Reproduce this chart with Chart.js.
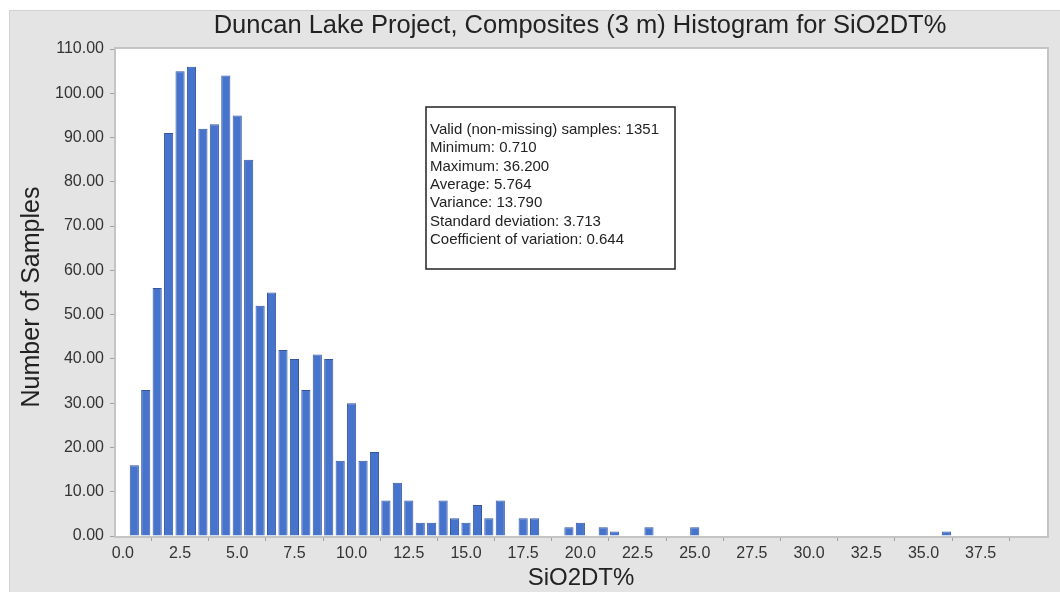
<!DOCTYPE html>
<html>
<head>
<meta charset="utf-8">
<script src="https://cdn.jsdelivr.net/npm/chart.js@4.4.1/dist/chart.umd.min.js"></script>
<style>
  html, body { margin: 0; padding: 0; background: #ffffff; }
  #wrap { position: relative; width: 1060px; height: 592px; }
  canvas { display: block; }
</style>
</head>
<body>
<div id="wrap"><canvas id="c" width="1060" height="592"></canvas></div>
<script>
// ---- Data ----
const chartTitle = 'Duncan Lake Project, Composites (3 m) Histogram for SiO2DT%';
const xAxisTitle = 'SiO2DT%';
const yAxisTitle = 'Number of Samples';
const binCenters = [0.5, 1.0, 1.5, 2.0, 2.5, 3.0, 3.5, 4.0, 4.5, 5.0,
                    5.5, 6.0, 6.5, 7.0, 7.5, 8.0, 8.5, 9.0, 9.5, 10.0,
                    10.5, 11.0, 11.5, 12.0, 12.5, 13.0, 13.5, 14.0, 14.5, 15.0,
                    15.5, 16.0, 16.5, 17.5, 18.0, 19.5, 20.0, 21.0, 21.5, 23.0,
                    25.0, 36.0];
const sampleCounts = [16, 33, 56, 91, 105, 106, 92, 93, 104, 95,
                      85, 52, 55, 42, 40, 33, 41, 40, 17, 30,
                      17, 19, 8, 12, 8, 3, 3, 8, 4, 3,
                      7, 4, 8, 4, 4, 2, 3, 2, 1, 2,
                      2, 1];
const xTickValues = [0, 2.5, 5, 7.5, 10, 12.5, 15, 17.5, 20, 22.5, 25, 27.5, 30, 32.5, 35, 37.5, 40];
const statsLines = [
  'Valid (non-missing) samples: 1351',
  'Minimum: 0.710',
  'Maximum: 36.200',
  'Average: 5.764',
  'Variance: 13.790',
  'Standard deviation: 3.713',
  'Coefficient of variation: 0.644'
];

const FONT = '"Liberation Sans", Arial, "DejaVu Sans", sans-serif';

const decorPlugin = {
  id: 'decor',
  beforeDraw(chart) {
    const ctx = chart.ctx;
    const a = chart.chartArea;
    ctx.save();
    ctx.fillStyle = '#ffffff';
    ctx.fillRect(0, 0, chart.width, chart.height);
    ctx.fillStyle = '#e4e4e4';
    ctx.fillRect(9, 10, chart.width - 9, chart.height - 10);
    ctx.strokeStyle = '#d2d2d2';
    ctx.lineWidth = 1;
    ctx.beginPath();
    ctx.moveTo(9.5, chart.height);
    ctx.lineTo(9.5, 10.5);
    ctx.lineTo(chart.width, 10.5);
    ctx.stroke();
    ctx.fillStyle = '#ffffff';
    ctx.fillRect(a.left, a.top, a.right - a.left, a.bottom - a.top);
    ctx.restore();
  },
  afterDraw(chart) {
    const ctx = chart.ctx;
    const a = chart.chartArea;
    ctx.save();
    // plot frame
    ctx.strokeStyle = '#c4c4c4';
    ctx.lineWidth = 2;
    ctx.strokeRect(a.left - 1, a.top - 1, a.right - a.left + 2, a.bottom - a.top + 2);
    // titles
    ctx.fillStyle = '#222222';
    ctx.textAlign = 'center';
    ctx.textBaseline = 'middle';
    ctx.font = '25.5px ' + FONT;
    ctx.fillText(chartTitle, 580, 26);
    ctx.font = '24px ' + FONT;
    ctx.fillText(xAxisTitle, 581, 578);
    ctx.save();
    ctx.translate(32, 297);
    ctx.rotate(-Math.PI / 2);
    ctx.font = '25px ' + FONT;
    ctx.fillText(yAxisTitle, 0, 0);
    ctx.restore();
    // stats box
    ctx.fillStyle = '#ffffff';
    ctx.fillRect(426, 107, 249, 162);
    ctx.strokeStyle = '#222222';
    ctx.lineWidth = 1.5;
    ctx.strokeRect(426, 107, 249, 162);
    ctx.fillStyle = '#222222';
    ctx.textAlign = 'left';
    ctx.font = '15px ' + FONT;
    statsLines.forEach((s, i) => ctx.fillText(s, 430, 130 + i * 18.3));
    ctx.restore();
  }
};

new Chart(document.getElementById('c'), {
  type: 'bar',
  data: {
    datasets: [{
      data: binCenters.map((x, i) => ({ x: x, y: sampleCounts[i] })),
      backgroundColor: '#4673cc',
      borderColor: '#35569f',
      borderWidth: 1,
      barPercentage: 0.8,
      categoryPercentage: 1.0
    }]
  },
  options: {
    responsive: false,
    animation: false,
    devicePixelRatio: 1,
    layout: { padding: { left: 0, right: 13, top: 49, bottom: 0 } },
    plugins: { legend: { display: false }, title: { display: false }, tooltip: { enabled: false } },
    scales: {
      x: {
        type: 'linear',
        min: -0.3,
        max: 40.4,
        offset: false,
        afterFit(scale) { scale.height = 56; },
        afterBuildTicks(scale) { scale.ticks = xTickValues.map(v => ({ value: v })); },
        border: { display: false },
        grid: { drawOnChartArea: false, drawTicks: true, tickLength: 5, color: '#a0a0a0' },
        ticks: {
          autoSkip: false,
          maxRotation: 0,
          padding: 3,
          color: '#333333',
          font: { family: FONT, size: 16 },
          callback: (v) => (v >= 40 ? '' : Number(v).toFixed(1))
        }
      },
      y: {
        min: 0,
        max: 110,
        afterFit(scale) { scale.width = 116; },
        border: { display: false },
        grid: { drawOnChartArea: false, drawTicks: true, tickLength: 6, color: '#a0a0a0' },
        ticks: {
          stepSize: 10,
          padding: 6,
          color: '#333333',
          font: { family: FONT, size: 16 },
          callback: (v) => Number(v).toFixed(2)
        }
      }
    }
  },
  plugins: [decorPlugin]
});
</script>
</body>
</html>
